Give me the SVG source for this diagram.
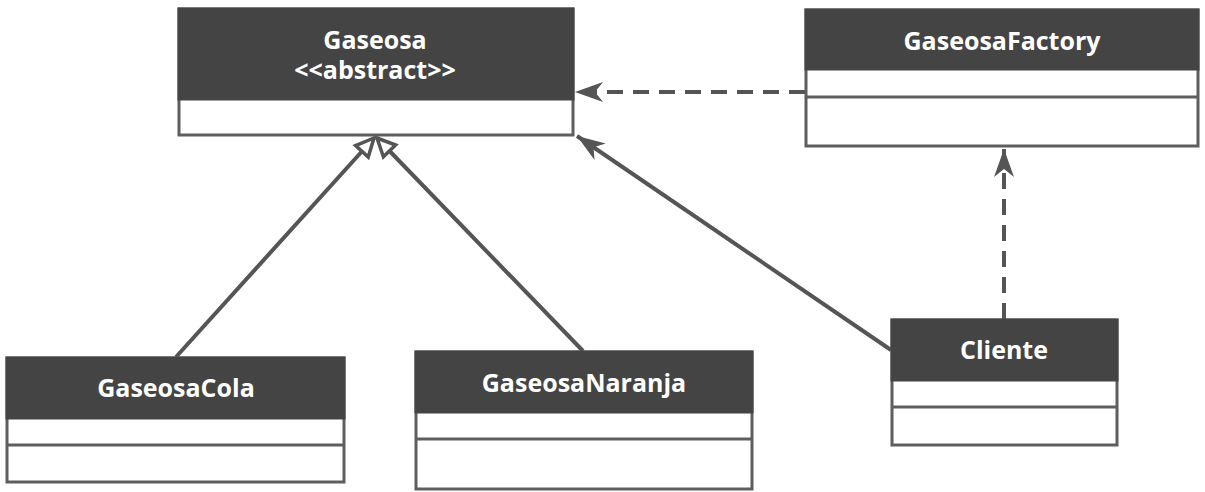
<svg xmlns="http://www.w3.org/2000/svg" width="1205" height="492" viewBox="0 0 1205 492">
<style>
.hdr{fill:#444444;}
.box{fill:#ffffff;stroke:#5e5e5e;stroke-width:3;}
.sep{stroke:#5e5e5e;stroke-width:3;}
.t{font-family:"Open Sans","Liberation Sans",sans-serif;font-weight:bold;font-size:25px;fill:#ffffff;text-anchor:middle;}
.ln{fill:none;stroke:#555555;stroke-width:4;}
.dash{stroke-dasharray:16 10;}
</style>
<defs>
<marker id="tri" markerUnits="userSpaceOnUse" markerWidth="40" markerHeight="40" refX="0" refY="0" orient="auto" overflow="visible">
<path d="M0,0 L-18,-8.5 L-18,8.5 Z" fill="#ffffff" stroke="#555555" stroke-width="3.5" stroke-linejoin="miter"/>
</marker>
<marker id="arr" markerUnits="userSpaceOnUse" markerWidth="40" markerHeight="40" refX="0" refY="0" orient="auto" overflow="visible">
<path d="M0,0 L-28,-10 L-20,0 L-28,10 Z" fill="#555555"/>
</marker>
</defs>
<g id="connectors">
<path class="ln" d="M176,357 L374,138" marker-end="url(#tri)"/>
<path class="ln" d="M583,351 L377,138" marker-end="url(#tri)"/>
<path class="ln" d="M891,350 L577,136" marker-end="url(#arr)"/>
<path class="ln dash" d="M805,92 L575,92" marker-end="url(#arr)"/>
<path class="ln dash" d="M1004,319 L1004,149" marker-end="url(#arr)"/>
</g>
<g id="Gaseosa">
<rect class="box" x="179" y="9" width="394" height="126"/>
<rect class="hdr" x="177.5" y="7.5" width="397" height="93"/>
<text class="t" x="375" y="49">Gaseosa</text>
<text class="t" x="375" y="79">&lt;&lt;abstract&gt;&gt;</text>
</g>
<g id="GaseosaFactory">
<rect class="box" x="806" y="10" width="392" height="136"/>
<rect class="hdr" x="804.5" y="8.5" width="395" height="62"/>
<line class="sep" x1="806" y1="97" x2="1198" y2="97"/>
<text class="t" x="1002" y="50">GaseosaFactory</text>
</g>
<g id="GaseosaCola">
<rect class="box" x="7" y="358" width="337" height="124"/>
<rect class="hdr" x="5.5" y="356.5" width="340" height="63"/>
<line class="sep" x1="7" y1="445" x2="344" y2="445"/>
<text class="t" x="176" y="397">GaseosaCola</text>
</g>
<g id="GaseosaNaranja">
<rect class="box" x="416" y="352" width="336" height="137"/>
<rect class="hdr" x="414.5" y="350.5" width="339" height="63"/>
<line class="sep" x1="416" y1="439" x2="752" y2="439"/>
<text class="t" x="584" y="392">GaseosaNaranja</text>
</g>
<g id="Cliente">
<rect class="box" x="892" y="320" width="225" height="125"/>
<rect class="hdr" x="890.5" y="318.5" width="228" height="63"/>
<line class="sep" x1="892" y1="407" x2="1117" y2="407"/>
<text class="t" x="1004" y="359">Cliente</text>
</g>
</svg>
